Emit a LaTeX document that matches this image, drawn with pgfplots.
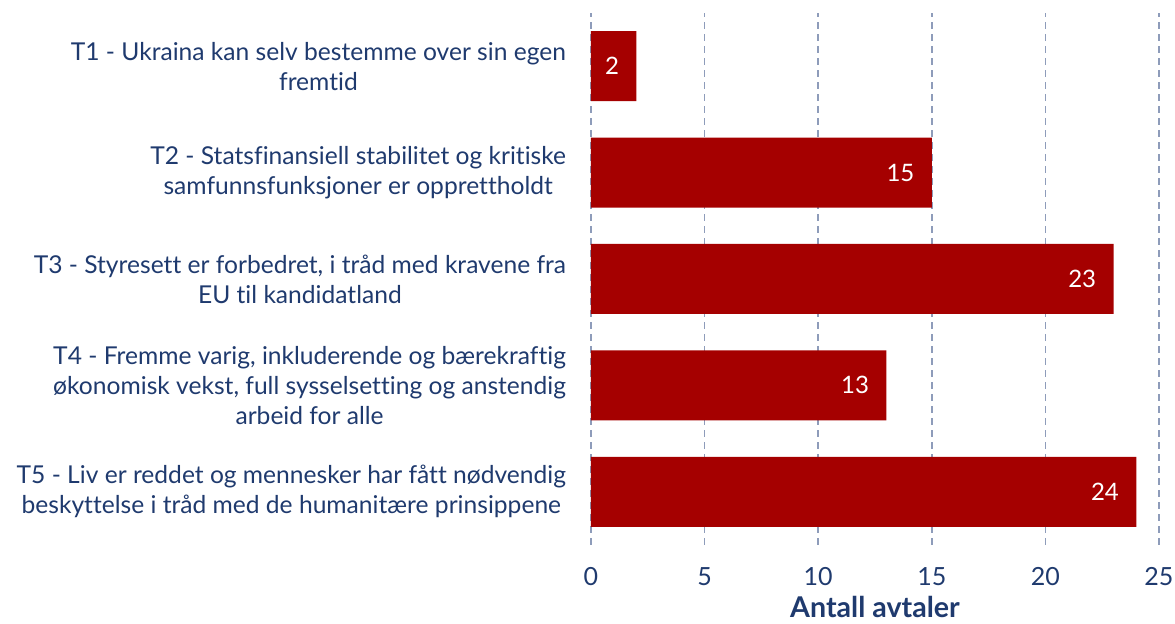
\documentclass[border=0pt]{standalone}
\usepackage{pgfplots}
\pgfplotsset{compat=1.18}
\usepackage{fontspec}
\setmainfont{Lato}[Ligatures=NoCommon]
\definecolor{navy}{HTML}{1F3A6E}
\definecolor{barred}{HTML}{A50000}
\definecolor{gridc}{HTML}{8E9CBA}
\begin{document}
\begin{tikzpicture}
\begin{axis}[
  at={(0,0)}, anchor=south west,
  scale only axis, width=284pt, height=266pt,
  xmin=0, xmax=25, ymin=0.5, ymax=5.5,
  xbar, bar width=35pt,
  xtick={0,5,...,25}, ytick={1,2,3,4,5},
  yticklabels={
    {T5 - Liv er reddet og mennesker har fått nødvendig\\beskyttelse i tråd med de humanitære prinsippene},
    {T4 - Fremme varig, inkluderende og bærekraftig\\økonomisk vekst, full sysselsetting og anstendig\\arbeid for alle},
    {T3 - Styresett er forbedret, i tråd med kravene fra\\EU til kandidatland},
    {T2 - Statsfinansiell stabilitet og kritiske\\samfunnsfunksjoner er opprettholdt},
    {T1 - Ukraina kan selv bestemme over sin egen\\fremtid}},
  yticklabel style={align=center, font=\fontsize{12.3}{15}\selectfont, text=navy, inner sep=0pt, xshift=-8pt},
  xticklabel style={font=\fontsize{12.5}{15}\selectfont, text=navy, inner sep=0pt, anchor=north, yshift=-11pt},
  /pgf/number format/assume math mode=true,
  xlabel={Antall avtaler},
  xlabel style={at={(axis description cs:0.5,0)}, anchor=north, yshift=-25.5pt, inner sep=0pt, font=\bfseries\fontsize{14.3}{16}\selectfont, text=navy},
  axis line style={draw=none},
  tick style={draw=none},
  xmajorgrids=true,
  major grid style={gridc, line width=0.75pt, dash pattern=on 3.5pt off 2.5pt},
  nodes near coords,
  nodes near coords style={anchor=east, text=white, inner sep=0pt, xshift=-8.5pt, font=\fontsize{12}{14}\selectfont},
]
\addplot[fill=barred, draw=none] coordinates {(24,1) (13,2) (23,3) (15,4) (2,5)};
\end{axis}
\pgfresetboundingbox
\path (-295.5pt,-39.5pt) rectangle (292pt,272.5pt);
\end{tikzpicture}
\end{document}
